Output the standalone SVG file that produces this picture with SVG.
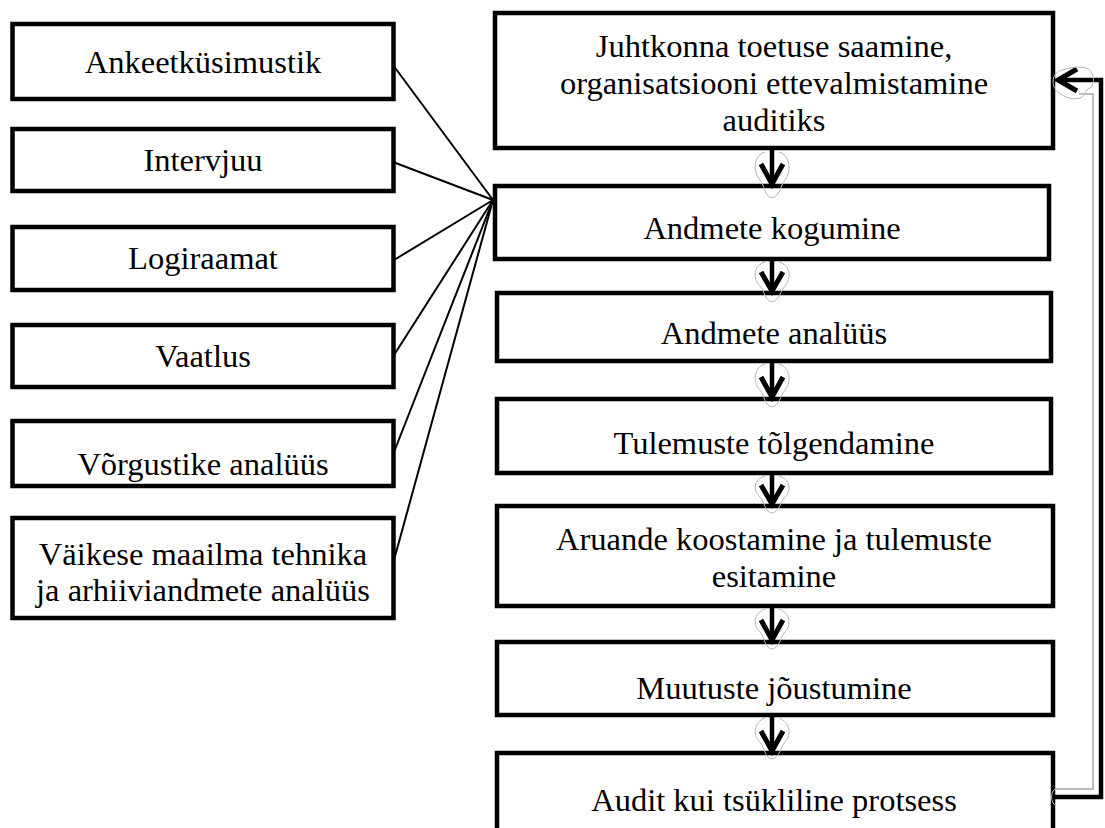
<svg xmlns="http://www.w3.org/2000/svg" width="1105" height="828" viewBox="0 0 1105 828">
<style>
.box{fill:#fff;stroke:#000;stroke-width:4.5}
.t{font-family:'Liberation Serif','Times New Roman',Times,'DejaVu Serif',serif;font-size:32.5px;fill:#000;text-anchor:middle}
.ln{stroke:#000;stroke-width:2;fill:none}
.sh{stroke:#000;stroke-width:4.5;fill:none;stroke-linecap:butt}
.hd{stroke:#000;stroke-width:5;fill:none;stroke-linejoin:miter}
.blob{stroke:#b5b5b5;stroke-width:1;fill:none}
.gl{stroke:#a8a8a8;stroke-width:1.5;fill:none}
</style>
<rect width="1105" height="828" fill="#fff"/>
<g id="connectors">
<line class="ln" x1="393" y1="65" x2="493" y2="200"/>
<line class="ln" x1="393" y1="162" x2="493" y2="200"/>
<line class="ln" x1="394" y1="260" x2="493" y2="200"/>
<line class="ln" x1="394" y1="355" x2="493" y2="200"/>
<line class="ln" x1="394" y1="452" x2="493" y2="200"/>
<line class="ln" x1="394" y1="560" x2="493" y2="200"/>
</g>
<g id="left-nodes">
<g id="n-ankeet"><rect class="box" x="12.5" y="24" width="381" height="75"/><text class="t" x="203" y="73">Ankeetküsimustik</text></g>
<g id="n-intervjuu"><rect class="box" x="12.5" y="129" width="381" height="62"/><text class="t" x="203" y="171">Intervjuu</text></g>
<g id="n-logiraamat"><rect class="box" x="12.5" y="227" width="381" height="63"/><text class="t" x="203" y="269">Logiraamat</text></g>
<g id="n-vaatlus"><rect class="box" x="12.5" y="325" width="381" height="62"/><text class="t" x="203" y="367">Vaatlus</text></g>
<g id="n-vorgustike"><rect class="box" x="12.5" y="421" width="381" height="65"/><text class="t" x="203" y="475">Võrgustike analüüs</text></g>
<g id="n-vaikese"><rect class="box" x="12.5" y="518" width="381" height="100"/><text class="t" x="203" y="565">Väikese maailma tehnika</text><text class="t" x="203" y="601">ja arhiiviandmete analüüs</text></g>
</g>
<g id="right-nodes">
<g id="n-juhtkonna"><rect class="box" x="495" y="13" width="558" height="135"/><text class="t" x="774" y="57">Juhtkonna toetuse saamine,</text><text class="t" x="774" y="94">organisatsiooni ettevalmistamine</text><text class="t" x="774" y="131">auditiks</text></g>
<g id="n-kogumine"><rect class="box" x="495" y="186" width="554" height="73"/><text class="t" x="772" y="239">Andmete kogumine</text></g>
<g id="n-analyys"><rect class="box" x="497" y="293" width="554" height="68"/><text class="t" x="774" y="344">Andmete analüüs</text></g>
<g id="n-tolgendamine"><rect class="box" x="497" y="399" width="554" height="74"/><text class="t" x="774" y="454">Tulemuste tõlgendamine</text></g>
<g id="n-aruande"><rect class="box" x="497" y="506" width="556" height="100"/><text class="t" x="774" y="550">Aruande koostamine ja tulemuste</text><text class="t" x="774" y="587">esitamine</text></g>
<g id="n-muutuste"><rect class="box" x="497" y="642" width="556" height="73"/><text class="t" x="774" y="699">Muutuste jõustumine</text></g>
<g id="n-audit"><rect class="box" x="497" y="753" width="556" height="90"/><text class="t" x="774" y="811">Audit kui tsükliline protsess</text></g>
</g>
<g id="flow-arrows">
<path class="blob" d="M765 152 C754 155 752 171 760 180 C765 186 764 196 772 198 C780 196 780 186 785 180 C792 171 790 155 779 152"/>
<path class="sh" d="M772 148 V184"/><path class="hd" d="M761 164 L772 184 L783 164"/>
<path class="blob" d="M765 262 C754 265 752 278 760 286 C765 291 764 300 772 302 C780 300 780 291 785 286 C792 278 790 265 779 262"/>
<path class="sh" d="M772 259 V291"/><path class="hd" d="M761 272 L772 291 L783 272"/>
<path class="blob" d="M765 364 C754 367 752 382 760 390 C765 396 764 405 772 407 C780 405 780 396 785 390 C792 382 790 367 779 364"/>
<path class="sh" d="M772 361 V397"/><path class="hd" d="M761 377 L772 397 L783 377"/>
<path class="blob" d="M765 476 C754 479 752 490 760 497 C765 502 764 511 772 513 C780 511 780 502 785 497 C792 490 790 479 779 476"/>
<path class="sh" d="M772 473 V504"/><path class="hd" d="M761 485 L772 504 L783 485"/>
<path class="blob" d="M765 609 C754 613 752 625 760 632 C765 638 764 647 772 649 C780 647 780 638 785 632 C792 625 790 613 779 609"/>
<path class="sh" d="M772 606 V640"/><path class="hd" d="M761 620 L772 640 L783 620"/>
<path class="blob" d="M765 718 C754 722 752 735 760 742 C765 748 764 757 772 759 C780 757 780 748 785 742 C792 735 790 722 779 718"/>
<path class="sh" d="M772 715 V751"/><path class="hd" d="M761 731 L772 751 L783 731"/>
</g>
<g id="feedback">
<path class="gl" d="M1056 789 H1093 V94 H1079"/>
<path class="sh" d="M1053 797 H1101 V80 H1058"/>
<path class="hd" d="M1077 69 L1058 80 L1077 91"/>
<path class="blob" d="M1062 70 C1052 72 1050 86 1058 92 C1066 98 1072 100 1080 98 C1086 96 1084 90 1090 88 C1096 84 1094 70 1086 68 C1078 66 1070 68 1062 70"/>
<path class="blob" d="M1056 788 C1050 792 1050 802 1056 806"/>
</g>
</svg>
